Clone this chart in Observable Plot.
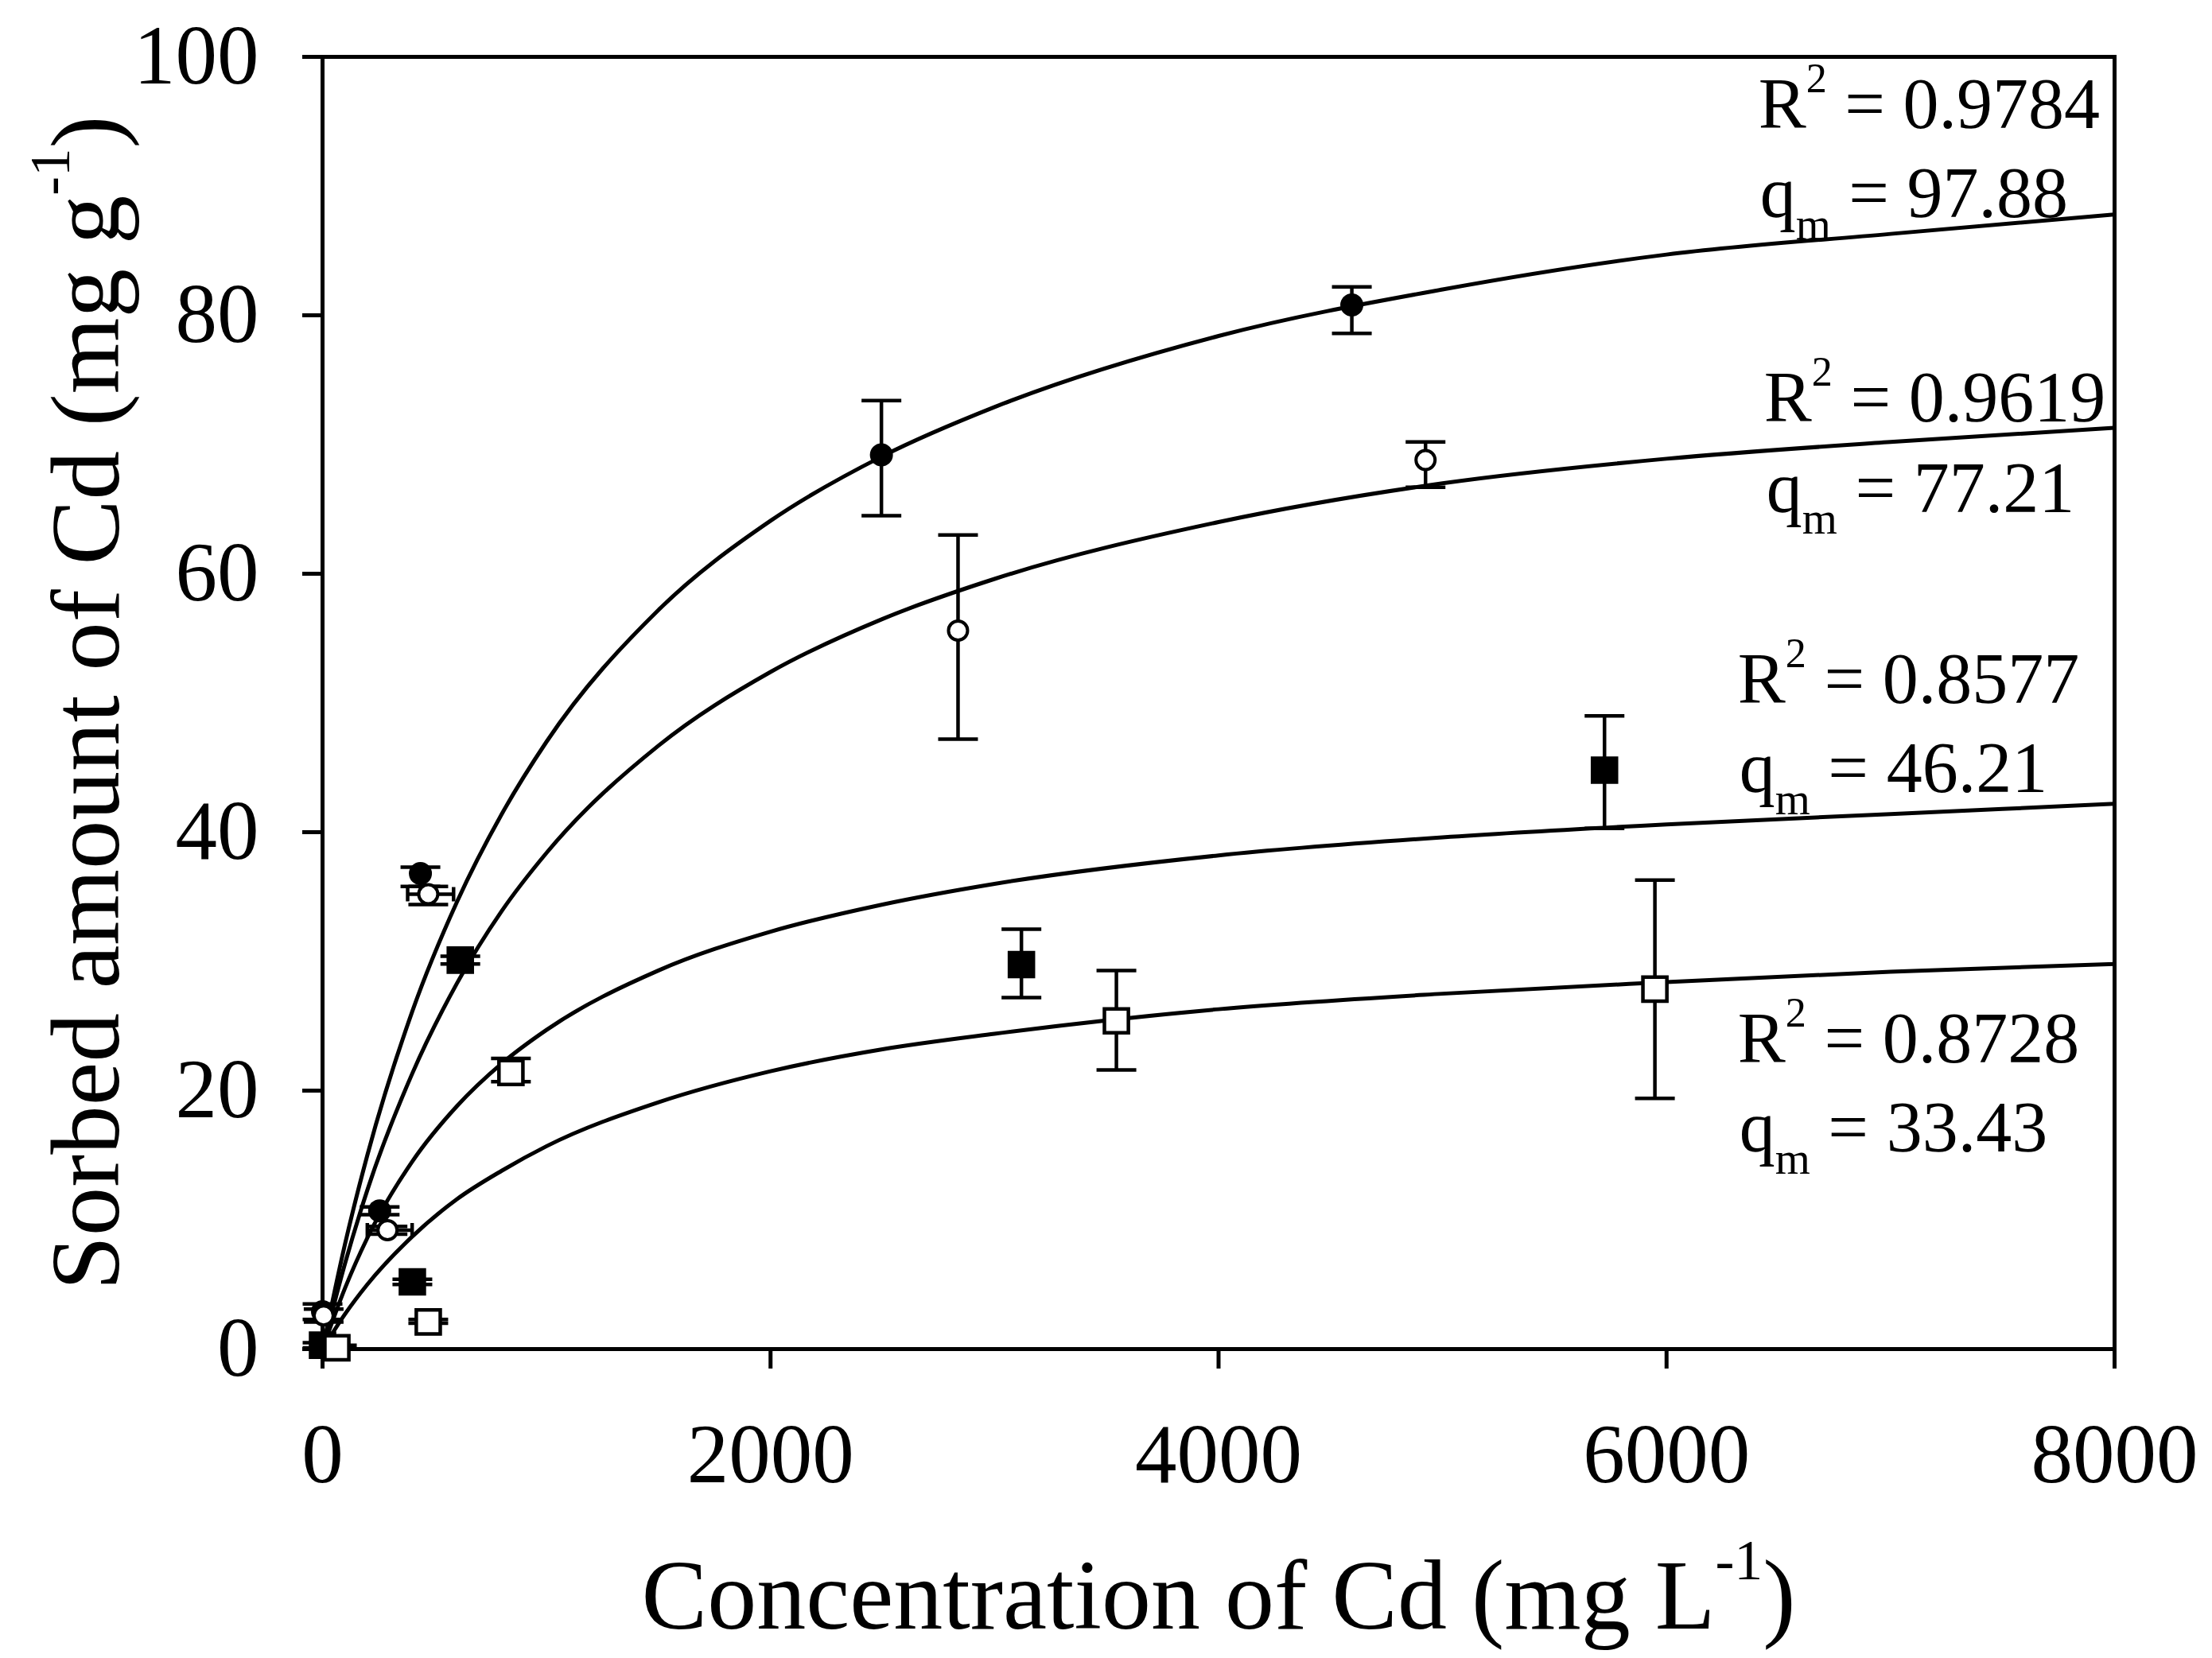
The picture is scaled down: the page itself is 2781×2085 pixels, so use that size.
<!DOCTYPE html>
<html>
<head>
<meta charset="utf-8">
<script src="https://cdn.jsdelivr.net/npm/d3@7"></script>
<script src="https://cdn.jsdelivr.net/npm/@observablehq/plot@0.6"></script>
<style>
  html, body { margin: 0; padding: 0; background: #ffffff; }
  #chart svg { display: block; }
</style>
</head>
<body>
<div id="chart"></div>
<script>
// ---------- tick values ----------
const xTicks = [0, 2000, 4000, 6000, 8000];
const yTicks = [0, 20, 40, 60, 80, 100];

// ---------- measured points (C in mg/L, q in mg/g) with error limits ----------
// series 1: filled circles
const s1C  = [0, 255, 437, 2495, 4595];
const s1Q  = [2.9, 10.7, 36.8, 69.2, 80.8];
const s1Lo = [2.3, 10.4, 35.8, 64.5, 78.6];
const s1Hi = [3.5, 11.0, 37.3, 73.4, 82.2];
// series 2: open circles
const s2C  = [5, 290, 472, 2837, 4924];
const s2Q  = [2.6, 9.2, 35.2, 55.6, 68.8];
const s2Lo = [2.1, 8.9, 34.4, 47.2, 66.7];
const s2Hi = [3.1, 9.5, 35.8, 63.0, 70.2];
// horizontal error bars (open circles)
const s2hC  = [290, 472];
const s2hQ  = [9.2, 35.2];
const s2hLo = [200, 380];
const s2hHi = [400, 585];
// series 3: filled squares
const s3C  = [0, 401, 615, 3120, 5723];
const s3Q  = [0.3, 5.2, 30.1, 29.75, 44.8];
const s3Lo = [0.1, 5.0, 29.8, 27.2, 40.3];
const s3Hi = [0.5, 5.4, 30.4, 32.5, 49.0];
// series 4: open squares
const s4C  = [64, 472, 841, 3544, 5948];
const s4Q  = [0.1, 2.1, 21.4, 25.4, 27.85];
const s4Lo = [0.0, 2.0, 20.7, 21.6, 19.4];
const s4Hi = [0.3, 2.3, 22.5, 29.3, 36.3];

// ---------- fitted curves ----------
const fitC = [0, 100, 200, 400, 600, 800, 1000, 1500, 2000, 2500, 3000, 4000, 5000, 6000, 7000, 8000];
const fit1 = [0, 8.1, 15.0, 26.1, 34.6, 41.4, 47.0, 57.2, 64.1, 69.1, 72.9, 78.4, 82.0, 84.7, 86.3, 87.8];
const fit2 = [0, 6.6, 12.3, 21.3, 28.3, 33.9, 38.4, 46.7, 52.4, 56.5, 59.6, 64.0, 67.0, 68.9, 70.2, 71.3];
const fit3 = [0, 4.7, 8.6, 14.5, 18.8, 22.1, 24.7, 29.3, 32.3, 34.4, 36.0, 38.2, 39.6, 40.6, 41.4, 42.2];
const fit4 = [0, 2.7, 5.0, 8.7, 11.6, 13.8, 15.7, 19.1, 21.5, 23.2, 24.4, 26.3, 27.5, 28.4, 29.2, 29.8];

// ---------- annotation labels (anchored in data units) ----------
const annoText = ["R^{2} = 0.9784", "q_{m} = 97.88", "R^{2} = 0.9619", "q_{m} = 77.21",
                  "R^{2} = 0.8577", "q_{m} = 46.21", "R^{2} = 0.8728", "q_{m} = 33.43"];
const annoX = [6410, 6417, 6435, 6446, 6318, 6325, 6318, 6325];
const annoY = [94.5, 87.6, 71.8, 64.8, 50.0, 43.1, 22.2, 15.3];

const xTitle = "Concentration of Cd (mg L^{-1})";
const yTitle = "Sorbed amount of Cd (mg g^{-1})";

// ---------- tables ----------
const rows = (C, Q, Lo, Hi) => C.map((c, i) => ({C: c, q: Q[i], lo: Lo[i], hi: Hi[i]}));
const p1 = rows(s1C, s1Q, s1Lo, s1Hi);
const p2 = rows(s2C, s2Q, s2Lo, s2Hi);
const p3 = rows(s3C, s3Q, s3Lo, s3Hi);
const p4 = rows(s4C, s4Q, s4Lo, s4Hi);
const allPts = [...p1, ...p2, ...p3, ...p4];
const hErr = s2hC.map((c, i) => ({C: c, q: s2hQ[i], lo: s2hLo[i], hi: s2hHi[i]}));
const curves = [fit1, fit2, fit3, fit4].flatMap((f, k) => fitC.map((c, i) => ({C: c, q: f[i], k})));
const annos = annoText.map((t, i) => ({t, x: annoX[i], y: annoY[i]}));

const hCap = {draw(ctx, size) { const r = Math.sqrt(size / Math.PI); ctx.moveTo(-r, 0); ctx.lineTo(r, 0); }};
const vCap = {draw(ctx, size) { const r = Math.sqrt(size / Math.PI); ctx.moveTo(0, -r); ctx.lineTo(0, r); }};

const FONT = '"Liberation Serif", "Times New Roman", Times, serif';

const chart = Plot.plot({
  width: 2781,
  height: 2085,
  marginLeft: 405,
  marginRight: 123,
  marginTop: 71,
  marginBottom: 389,
  style: {fontFamily: FONT, background: "#ffffff", color: "#000000"},
  x: {domain: [0, 8000]},
  y: {domain: [0, 100]},
  marks: [
    Plot.axisX({ticks: xTicks, tickFormat: d3.format("d"), tickSize: 25, tickPadding: 68,
                fontSize: 105, strokeWidth: 5, label: null}),
    Plot.axisY({ticks: yTicks, tickFormat: d3.format("d"), tickSize: 25, tickPadding: 55,
                fontSize: 105, strokeWidth: 5, label: null}),
    Plot.frame({strokeWidth: 5, stroke: "#000"}),
    Plot.line(curves, {x: "C", y: "q", z: "k", curve: "monotone-x", stroke: "#000", strokeWidth: 5}),
    // vertical error bars
    Plot.ruleX(allPts, {x: "C", y1: "lo", y2: "hi", stroke: "#000", strokeWidth: 4.5}),
    Plot.dot(allPts, {x: "C", y: "lo", symbol: hCap, r: 25, fill: "none", stroke: "#000", strokeWidth: 4.5}),
    Plot.dot(allPts, {x: "C", y: "hi", symbol: hCap, r: 25, fill: "none", stroke: "#000", strokeWidth: 4.5}),
    // horizontal error bars
    Plot.ruleY(hErr, {y: "q", x1: "lo", x2: "hi", stroke: "#000", strokeWidth: 4.5}),
    Plot.dot(hErr, {x: "lo", y: "q", symbol: vCap, r: 9, fill: "none", stroke: "#000", strokeWidth: 4.5}),
    Plot.dot(hErr, {x: "hi", y: "q", symbol: vCap, r: 9, fill: "none", stroke: "#000", strokeWidth: 4.5}),
    // markers
    Plot.dot(p3, {x: "C", y: "q", symbol: "square", r: 19.5, fill: "#000", stroke: "none"}),
    Plot.dot(p4, {x: "C", y: "q", symbol: "square", r: 17, fill: "#fff", stroke: "#000", strokeWidth: 4.5}),
    Plot.dot(p1, {x: "C", y: "q", symbol: "circle", r: 14.5, fill: "#000", stroke: "none"}),
    Plot.dot(p2, {x: "C", y: "q", symbol: "circle", r: 12, fill: "#fff", stroke: "#000", strokeWidth: 4}),
    // annotations
    Plot.text(annos, {x: "x", y: "y", text: "t", textAnchor: "start", lineAnchor: "bottom",
                      fontSize: 90, fill: "#000"}),
    // axis titles
    Plot.text([xTitle], {frameAnchor: "bottom", dy: 351, lineAnchor: "bottom", textAnchor: "middle",
                         fontSize: 124, fill: "#000"}),
    Plot.text([yTitle], {frameAnchor: "left", dx: -257, rotate: -90, lineAnchor: "bottom", textAnchor: "middle",
                         fontSize: 123, fill: "#000"})
  ]
});

document.getElementById("chart").appendChild(chart);

// rich text: ^{...} superscripts and _{...} subscripts as real tspans
const NS = "http://www.w3.org/2000/svg";
chart.querySelectorAll("text").forEach(t => {
  const s = t.textContent;
  if (!/[\^_]\{/.test(s)) return;
  const fs = parseFloat(getComputedStyle(t).fontSize) || 100;
  const parts = [];
  const re = /(\^|_)\{([^}]*)\}/g;
  let last = 0, m;
  while ((m = re.exec(s))) {
    if (m.index > last) parts.push({txt: s.slice(last, m.index), kind: "n"});
    parts.push({txt: m[2], kind: m[1] === "^" ? "sup" : "sub"});
    last = re.lastIndex;
  }
  if (last < s.length) parts.push({txt: s.slice(last), kind: "n"});
  while (t.firstChild) t.removeChild(t.firstChild);
  let shift = 0;
  parts.forEach(p => {
    const ts = document.createElementNS(NS, "tspan");
    let target = 0;
    if (p.kind === "sup") { target = -0.5 * fs; ts.setAttribute("font-size", (0.58 * fs).toFixed(1)); }
    if (p.kind === "sub") { target = 0.31 * fs; ts.setAttribute("font-size", (0.63 * fs).toFixed(1)); }
    const d = target - shift;
    if (d !== 0) ts.setAttribute("dy", d.toFixed(1));
    shift = target;
    ts.textContent = p.txt;
    t.appendChild(ts);
  });
});
</script>
</body>
</html>
